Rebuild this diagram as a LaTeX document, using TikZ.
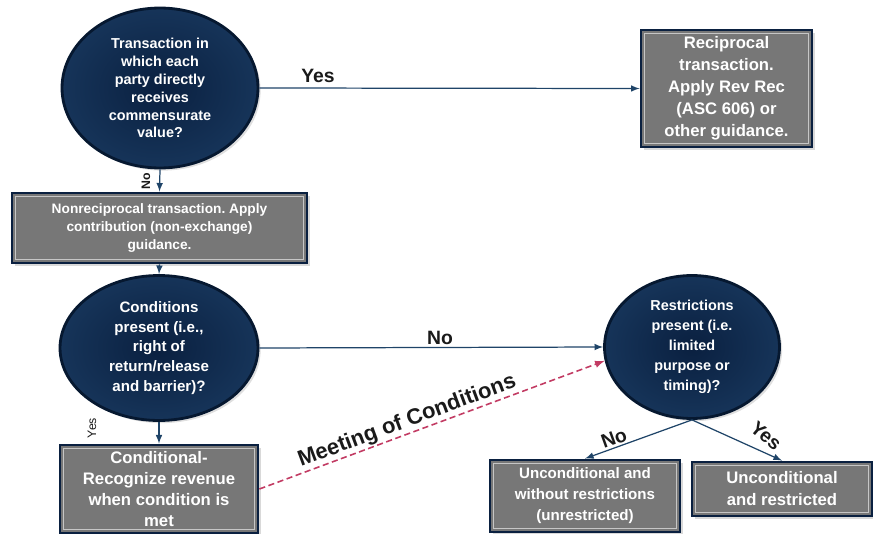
\documentclass[tikz,border=0pt]{standalone}
\usepackage{fontspec}
\setmainfont{Liberation Sans}
\usetikzlibrary{shapes.geometric,shadows}
\definecolor{ellnavy}{HTML}{0A2040}
\definecolor{ellrim}{HTML}{163459}
\definecolor{ellborder}{HTML}{061830}
\definecolor{boxgray}{HTML}{777777}
\definecolor{arrowblue}{HTML}{1F4468}
\definecolor{dashred}{HTML}{C23B63}
\definecolor{labelgray}{HTML}{1A1A1A}
\frenchspacing
\begin{document}
\begin{tikzpicture}[
    x=0.02cm, y=-0.02cm,
    every node/.style={font=\bfseries, text=white, align=center},
    question/.style={ellipse, inner sep=0pt, shading=radial, inner color=ellnavy,
        outer color=ellrim, draw=ellborder, line width=1.6pt,
        drop shadow={opacity=0.25, shadow xshift=1.5pt, shadow yshift=-1.5pt}},
    outcome/.style={rectangle, inner sep=0pt, fill=boxgray, draw=ellnavy, line width=1.6pt,
        drop shadow={opacity=0.3, shadow xshift=1.5pt, shadow yshift=-1.5pt},
        path picture={\draw[gray!45, line width=0.7pt]
            ([shift={(2pt,2pt)}]path picture bounding box.south west) rectangle
            ([shift={(-2pt,-2pt)}]path picture bounding box.north east);}},
    lbl/.style={text=labelgray, font=\fontsize{11}{13}\selectfont\bfseries},
    small/.style={text=labelgray, font=\fontsize{7}{8}\selectfont},
    arr/.style={->, >=latex, draw=arrowblue, line width=0.7pt},
    meet/.style={->, >=latex, draw=dashred, line width=0.9pt, dash pattern=on 3.5pt off 2pt}
]
\useasboundingbox (0,0) rectangle (873,534);

% First question
\node[question, minimum width=3.92cm, minimum height=3.2cm,
    font=\fontsize{8.2}{10.2}\selectfont\bfseries] (q1) at (160,88)
    {Transaction in\\which each\\party directly\\receives\\commensurate\\value?};
\node[outcome, minimum width=3.42cm, minimum height=2.34cm,
    font=\fontsize{9.5}{12.5}\selectfont\bfseries] (recip) at (726.5,88.5)
    {Reciprocal\\transaction.\\Apply Rev Rec\\(ASC 606) or\\other guidance.};
\node[outcome, minimum width=5.9cm, minimum height=1.4cm,
    font=\fontsize{7.8}{10.2}\selectfont\bfseries] (nonrecip) at (159.5,228)
    {Nonreciprocal transaction. Apply\\contribution (non-exchange)\\guidance.};

% Second question
\node[question, minimum width=3.96cm, minimum height=2.9cm,
    font=\fontsize{8.6}{11.3}\selectfont\bfseries] (q2) at (159,348)
    {Conditions\\present (i.e.,\\right of\\return/release\\and barrier)?};
\node[outcome, minimum width=3.96cm, minimum height=1.76cm,
    font=\fontsize{9.5}{12}\selectfont\bfseries] (cond) at (159,489)
    {Conditional-\\Recognize revenue\\when condition is\\met};

% Third question
\node[question, minimum width=3.5cm, minimum height=2.86cm,
    font=\fontsize{8.2}{11.3}\selectfont\bfseries] (q3) at (692,347)
    {Restrictions\\present (i.e.\\limited\\purpose or\\timing)?};
\node[outcome, minimum width=3.8cm, minimum height=1.44cm,
    font=\fontsize{8.6}{12}\selectfont\bfseries] (unres) at (585,496)
    {Unconditional and\\without restrictions\\(unrestricted)};
\node[outcome, minimum width=3.6cm, minimum height=1.08cm,
    font=\fontsize{9.5}{12.5}\selectfont\bfseries] (res) at (782,489)
    {Unconditional\\and restricted};

% Arrows
\draw[arr] (q1.east) -- (recip.west);
\node[lbl] (yes1) at (318,76) {Yes};
\draw[arr] (q1.south) -- (nonrecip.north);
\node[small, font=\fontsize{7}{8}\selectfont\bfseries, rotate=90] (no1) at (146,181) {No};
\draw[arr] (nonrecip.south) -- (q2.north);
\draw[arr] (q2.east) -- (q3.west);
\node[lbl] (no2) at (440,338) {No};
\draw[arr] (q2.south) -- (cond.north);
\node[small, rotate=90] (yes2) at (92,428) {Yes};
\draw[meet] (cond.east) -- node[lbl, font=\fontsize{12.5}{14}\selectfont\bfseries, sloped, above,
    pos=0.44, inner sep=0.5pt] (meetlbl) {Meeting of Conditions} (q3.189);
\draw[arr] (q3.south) -- node[lbl, sloped, above, pos=0.7, inner sep=1pt] (no3) {No} (unres.north);
\draw[arr] (q3.south) -- (res.north);
\node[lbl, rotate=-40] (yes3) at (766,436) {Yes};
\end{tikzpicture}
\end{document}
